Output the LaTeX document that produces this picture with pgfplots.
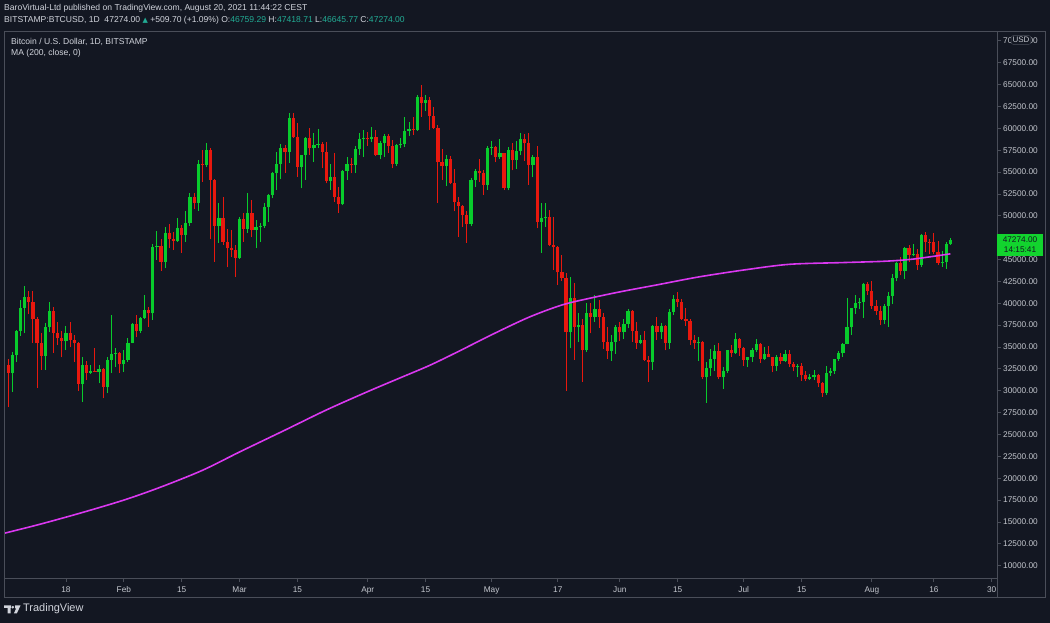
\documentclass[border=0pt]{standalone}
\usepackage{fontspec}
\setmainfont{Liberation Sans}
\newfontfamily\dejavu{DejaVu Sans}
\usepackage{pgfplots}
\pgfplotsset{compat=1.18}
\usepackage{pgfplotstable}
\definecolor{bg}{RGB}{19,23,34}
\definecolor{frame}{RGB}{74,78,89}
\definecolor{txt}{RGB}{209,212,220}
\definecolor{ticktxt}{RGB}{196,199,206}
\definecolor{teal}{RGB}{34,171,148}
\definecolor{upc}{RGB}{8,204,44}
\definecolor{dnc}{RGB}{232,24,14}
\definecolor{mac}{RGB}{218,56,240}
\definecolor{tag}{RGB}{18,212,46}

\pgfplotstableread{
d o h l c
4 32030 34440 29900 34030
5 34030 36940 33300 36820
6 36820 40370 36300 39490
7 39490 41970 36570 40680
12 34000 37700 32400 37320
13 37320 40140 36750 39110
17 35720 37400 34650 36560
21 30770 33820 28750 32940
23 32060 32900 31900 32260
25 32180 32900 30850 32500
27 30400 33820 29780 33520
28 33520 38660 32000 34200
29 34200 34850 32750 34280
31 33020 34650 32170 33510
32 33510 36000 33320 35500
33 35500 37780 35420 37630
35 36860 38400 36560 38310
36 38310 40950 38200 39230
38 38850 46770 38090 46470
39 46470 48260 44950 46550
41 44740 48750 44000 48000
44 47150 49710 47040 48600
46 47840 50580 47040 49140
47 49140 52570 48830 52110
49 51500 56380 50580 55920
51 55800 58350 55610 57520
54 48830 51420 46920 49710
59 45210 49900 45030 49630
61 48490 52640 48070 50280
63 48380 49520 46280 48680
64 48680 49200 47040 48830
65 48830 51420 48600 50960
66 50960 52500 49330 52380
67 52380 54950 52000 54930
68 54930 57320 52950 55920
69 55920 58200 54170 57710
71 57250 61720 56070 61210
74 55610 57000 53140 56950
75 56950 59000 54090 58920
77 57710 59410 56190 58090
78 58090 59900 57800 58200
81 54010 55920 52950 54400
84 51310 55200 51200 55120
85 55120 56750 54090 55920
87 55800 58000 54930 57630
88 57630 59410 56950 58770
89 58770 59810 56690 58900
91 58740 60190 58400 58960
93 56950 58500 56450 58280
94 58280 59350 56750 59110
97 55920 58200 55690 58090
98 58090 58860 57710 58200
99 58200 61250 57900 59730
100 59730 60750 59110 59880
102 59780 63800 59700 63540
104 62930 63800 62010 63240
109 55690 57000 53400 56450
115 49060 54300 48800 54090
116 54090 55400 53300 55150
119 53520 58000 53000 57780
120 57780 58500 57000 57900
122 56690 58820 56500 57150
124 53140 57900 52900 57520
126 56380 58600 55400 57410
127 57410 59500 56900 58820
130 55810 56900 54400 56750
132 49330 51420 45780 49710
133 49710 51500 48700 49830
139 36660 43030 34850 40650
141 37270 38920 35600 37510
143 34650 40000 34400 38920
145 38400 40940 37900 39310
149 34570 36400 33400 35600
150 35600 37500 34200 37320
152 36660 38200 35900 37600
153 37600 39400 37200 39110
156 35480 36400 35300 35800
159 33320 37500 32400 37400
161 36660 37700 35900 37400
163 35480 39300 34800 39000
164 39000 41000 38700 40490
170 35420 36100 33400 35600
172 31530 33300 28600 32560
173 32560 34800 31700 33630
174 33630 35200 32300 34570
176 31530 32700 30200 32290
177 32290 34700 32000 34650
179 34340 36600 34200 35870
182 33520 33900 32700 33820
183 33820 34900 33300 34650
184 34650 35900 34400 35340
186 33600 35000 33500 34200
189 32830 34100 32300 33820
191 33440 34600 33300 34200
194 32680 33100 31600 32800
197 31310 31950 31200 31530
198 31530 32400 31200 31800
201 29780 32850 29500 32000
202 32000 32600 31700 32290
203 32290 33650 31900 33600
204 33600 34500 33400 34280
205 34280 35400 33900 35340
206 35340 40550 35300 37250
207 37250 39500 36400 39420
208 39420 40900 38800 40000
209 40000 40600 39300 40100
210 40100 42300 38300 42200
215 38090 39900 37600 39690
216 39690 41300 37300 40830
217 40830 43300 39900 42850
218 42850 44700 42500 44640
220 43730 46400 42800 46280
222 45520 46780 45400 45600
224 44370 47900 44200 47800
229 44640 46000 44200 44700
230 44700 47000 43900 46770
231 46760 47420 46650 47274
}\upt

\pgfplotstableread{
d o h l c
3 32970 33600 28130 32030
8 40680 41400 38770 40150
9 40150 41350 35500 38170
10 38170 38400 30300 35420
11 35420 36600 32400 34000
14 39110 39600 34350 36640
15 36640 37900 35230 36000
16 36000 36870 33800 35720
18 36560 37830 34970 35800
19 35800 36370 33320 35420
20 35420 35600 30000 30770
22 32940 33440 31230 32060
24 32260 34850 32100 32180
26 32500 32600 29130 30400
30 34280 34400 32000 33020
34 37630 38660 36110 36860
37 39230 39600 37320 38850
40 46550 47350 43730 44740
42 48000 49060 46280 47310
43 47310 48180 46090 47150
45 48600 48950 45780 47840
48 52110 52570 50740 51500
50 55920 57520 53900 55800
52 57520 57700 47310 54090
53 54090 54170 44740 48830
55 49710 52110 46660 47040
56 47040 48450 44110 46280
57 46280 48380 45320 46090
58 46090 46660 43030 45210
60 49630 50280 47040 48490
62 50280 51800 47540 48380
70 57710 58090 54930 57250
72 61210 61720 58900 58960
73 58960 60570 54470 55610
76 58920 60000 56950 57710
79 58200 58460 55420 57320
80 57320 58460 53700 54010
82 54400 57210 51610 52190
83 52190 53320 50350 51310
86 55920 56570 54850 55800
90 58900 59530 58000 58740
92 58960 59810 56800 56950
95 59110 59400 57210 58010
96 58010 58650 55420 55920
101 59880 61250 59240 59780
103 63540 64940 61320 62930
105 63240 63540 59810 61440
106 61440 62470 59900 60070
107 60070 60400 51500 56190
108 56190 57600 54090 55690
110 56450 56800 53600 53780
111 53780 55400 50500 51610
112 51610 52100 47610 51120
113 51120 51200 48750 50090
114 50090 50500 46920 49060
117 55150 56450 53900 54850
118 54850 55200 52400 53520
121 57900 57950 56100 56690
123 57150 57200 53000 53140
125 57520 58300 55200 56380
128 58820 59300 56300 58280
129 58280 59500 53520 55810
131 56750 58000 48560 49330
134 49830 50700 46600 46660
135 46660 49830 43820 46380
136 46380 46600 42090 43520
137 43520 45480 42600 42880
138 42880 43500 30000 36660
140 40650 42350 33520 37270
142 37510 38200 31030 34650
144 38920 40000 36560 38400
146 39310 40400 37200 38460
147 38460 38860 34800 35600
148 35600 37300 33600 34570
151 37320 37900 35700 36660
154 39110 39200 35600 36830
155 36830 37900 34800 35480
157 35800 36800 33400 33520
158 33520 34000 31000 33320
160 37400 38400 35800 36660
162 37400 37500 34600 35480
165 40490 41300 39600 40150
166 40150 40500 38100 38170
167 38170 39500 37400 38010
168 38010 38200 35200 35800
169 35800 36400 34800 35420
171 35600 35700 31300 31530
175 34570 35500 31300 31530
178 34650 35200 33900 34340
180 35870 36000 34000 34920
181 34920 35000 32800 33520
185 35340 35400 33200 33600
187 34200 35100 33800 33820
188 33820 33900 32100 32830
190 33820 34300 33000 33440
192 34200 34600 32700 33060
193 33060 33300 32200 32680
195 32800 33200 31100 31800
196 31800 32200 31100 31310
199 31800 31900 30400 30850
200 30850 31000 29300 29780
211 42200 42400 41000 41440
212 41440 42600 39400 39690
213 39690 40400 38700 39150
214 39150 39700 37500 38090
219 44640 45300 43200 43730
221 46280 46700 44700 45520
223 45600 46200 43800 44370
225 47800 48100 45900 47040
226 47040 47300 45600 46950
227 46950 48050 45600 45890
228 45890 47100 44400 44640
}\dnt

\begin{document}
\begin{tikzpicture}[x=1bp,y=1bp]
\fill[bg] (0,0) rectangle (1050,623);
\useasboundingbox (0,0) rectangle (1050,623);
\begin{axis}[
  at={(4bp,45bp)}, anchor=south west,
  scale only axis, width=993bp, height=547bp,
  xmin=2.0, xmax=242.28, ymin=8594, ymax=71123,
  axis line style={draw=frame, line width=0.8bp},
  xtick={17,31,45,59,73,90,104,120,136,151,165,181,195,212,227,241},
  xticklabels={18,Feb,15,Mar,15,Apr,15,May,17,Jun,15,Jul,15,Aug,16,30},
  ytick={10000,12500,...,70000},
  scaled y ticks=false,
  yticklabel pos=right,
  xtick pos=bottom, ytick pos=right,
  tick align=outside,
  major tick length=4bp,
  tick style={draw=frame, line width=0.8bp},
  ticklabel style={font=\fontsize{8.3}{9}\selectfont, text=ticktxt},
  yticklabel style={anchor=west, inner sep=0pt, xshift=2bp},
  xticklabel style={anchor=base, inner sep=0pt, yshift=-11bp},
  /pgf/number format/.cd, fixed, fixed zerofill, precision=2, 1000 sep={}, assume math mode=true,
]
% wicks
\addplot[draw=none, no markers, forget plot, error bars/.cd, y dir=plus, y explicit, error mark=none,
  error bar style={draw=upc, line width=1bp, solid}]
  table[x=d, y=l, y error plus expr=\thisrow{h}-\thisrow{l}] {\upt};
\addplot[draw=none, no markers, forget plot, error bars/.cd, y dir=plus, y explicit, error mark=none,
  error bar style={draw=dnc, line width=1bp, solid}]
  table[x=d, y=l, y error plus expr=\thisrow{h}-\thisrow{l}] {\dnt};
% bodies
\addplot[draw=none, no markers, forget plot, error bars/.cd, y dir=plus, y explicit, error mark=none,
  error bar style={draw=upc, line width=3.2bp, solid}]
  table[x=d, y=o, y error plus expr={max(\thisrow{c}-\thisrow{o},90)}] {\upt};
\addplot[draw=none, no markers, forget plot, error bars/.cd, y dir=plus, y explicit, error mark=none,
  error bar style={draw=dnc, line width=3.2bp, solid}]
  table[x=d, y=c, y error plus expr={max(\thisrow{o}-\thisrow{c},90)}] {\dnt};
% MA 200
\addplot[mac, line width=1.6bp, smooth, no marks] coordinates {
(2,13700) (10,14650) (20,15950) (31,17500) (40,19000) (50,20900) (59,23000)
(70,25500) (80,27800) (90,29900) (98,31500) (105,32900) (112,34500) (120,36400)
(129,38400) (137,39800) (144,40600) (151,41300) (160,42100) (170,43000)
(181,43800) (192,44450) (205,44650) (215,44800) (222,45050) (231,45650)
};
\end{axis}
% frame around scales
\draw[frame, line width=0.8bp] (4,26) rectangle (1045,592);
\draw[frame, line width=0.8bp] (997,26) -- (997,45);
% USD box
\node[fill=bg, draw=frame, rounded corners=2bp, inner sep=1.5bp, text=ticktxt,
  font=\fontsize{8}{9}\selectfont] at (1021,583) {USD};
% price tag
\fill[tag] (997,367) rectangle (1043,389);
\node[text=bg, font=\fontsize{8.3}{9}\selectfont, inner sep=0] at (1020,383.5) {47274.00};
\node[text=bg, font=\fontsize{8.3}{9}\selectfont, inner sep=0] at (1020,373) {14:15:41};
% header
\node[anchor=west, text=txt, font=\fontsize{8.6}{10}\selectfont, inner sep=0] at (4,615)
  {BaroVirtual-Ltd published on TradingView.com, August 20, 2021 11:44:22 CEST};
\node[anchor=west, text=txt, font=\fontsize{8.6}{10}\selectfont, inner sep=0] at (4,603)
  {BITSTAMP:BTCUSD, 1D\ \ 47274.00 {\dejavu\color{teal}\fontsize{7}{8}\selectfont ▲} +509.70 (+1.09\%) O:\textcolor{teal}{46759.29} H:\textcolor{teal}{47418.71} L:\textcolor{teal}{46645.77} C:\textcolor{teal}{47274.00}};
% legend
\node[anchor=west, text=txt, font=\fontsize{8.6}{10}\selectfont, inner sep=0] at (11,581)
  {Bitcoin / U.S. Dollar, 1D, BITSTAMP};
\node[anchor=west, text=txt, font=\fontsize{8.6}{10}\selectfont, inner sep=0] at (11,570)
  {MA (200, close, 0)};
% TradingView logo
\fill[txt] (4,17.5) rectangle (11,15) (7.5,15) rectangle (10.5,9.5);
\fill[txt] (12.8,15.8) circle (1.4);
\fill[txt] (15,17.5) -- (20.5,17.5) -- (16.8,9.5) -- (13.8,9.5) -- (16.2,14.5) -- (15,14.5) -- cycle;
\node[anchor=west, text=txt, font=\fontsize{11}{12}\selectfont, inner sep=0] at (23,14) {TradingView};
\end{tikzpicture}
\end{document}
